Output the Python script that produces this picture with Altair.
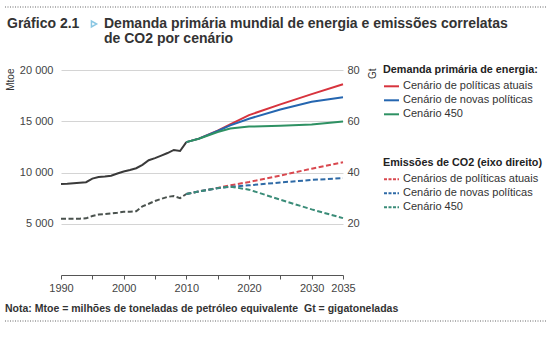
import altair as alt
import pandas as pd

# ---------------- data ----------------
hist_years = list(range(1990, 2011))
energy_hist = [8870, 8900, 8960, 9000, 9050, 9400, 9550, 9600, 9680, 9900,
               10100, 10250, 10420, 10750, 11200, 11400, 11650, 11900, 12200, 12100, 12960]
co2_hist = [22.0, 22.0, 22.0, 22.0, 22.1, 23.0, 23.6, 23.8, 24.0, 24.3,
            24.7, 24.7, 24.9, 26.8, 27.8, 28.9, 29.7, 30.5, 30.8, 30.0, 31.6]

proj_years = [2010, 2012, 2015, 2017, 2020, 2025, 2030, 2035]
energy_cps = [12960, 13300, 14080, 14700, 15600, 16650, 17650, 18610]
energy_nps = [12960, 13300, 14050, 14600, 15250, 16150, 16900, 17340]
energy_450 = [12960, 13300, 13950, 14300, 14480, 14550, 14680, 14970]
co2_cps = [31.6, 32.6, 34.0, 35.0, 36.3, 38.8, 41.5, 44.0]
co2_nps = [31.6, 32.6, 33.9, 34.4, 35.0, 36.1, 37.1, 37.8]
co2_450 = [31.6, 32.6, 33.9, 34.5, 33.3, 29.4, 25.6, 22.2]

x_tick_values = [1990, 1995, 2000, 2005, 2010, 2015, 2020, 2025, 2030, 2035]

energy_labels = ["Cenário de políticas atuais", "Cenário de novas políticas", "Cenário 450"]
co2_labels = ["Cenários de políticas atuais", "Cenário de novas políticas", "Cenário 450"]
hist_label = "Histórico"

energy_colors = ["#d7333d", "#2566b0", "#2e9163"]
co2_colors = ["#d9484f", "#2e6aa6", "#3a8c78"]
hist_energy_color = "#3a3a3a"
hist_co2_color = "#4a524e"

title_main = "Gráfico 2.1"
title_line1 = "Demanda primária mundial de energia e emissões correlatas"
title_line2 = "de CO2 por cenário"
note_text = "Nota: Mtoe = milhões de toneladas de petróleo equivalente \u00a0Gt = gigatoneladas"
legend_title_energy = "Demanda primária de energia:"
legend_title_co2 = "Emissões de CO2 (eixo direito)"

# ---------------- tables ----------------
rows_e = [{"ano": y, "valor": v, "serie": hist_label} for y, v in zip(hist_years, energy_hist)]
for lab, vals in zip(energy_labels, [energy_cps, energy_nps, energy_450]):
    rows_e += [{"ano": y, "valor": v, "serie": lab} for y, v in zip(proj_years, vals)]
df_e = pd.DataFrame(rows_e)

rows_c = [{"ano": y, "valor": v, "serie": hist_label} for y, v in zip(hist_years, co2_hist)]
for lab, vals in zip(co2_labels, [co2_cps, co2_nps, co2_450]):
    rows_c += [{"ano": y, "valor": v, "serie": lab} for y, v in zip(proj_years, vals)]
df_c = pd.DataFrame(rows_c)

FONT = "Liberation Sans"
W, H = 282, 205

x_scale = alt.Scale(domain=[1990, 2035], nice=False, zero=False)
x_axis = alt.Axis(title=None, values=x_tick_values, format="d",
                  labelExpr="(datum.value % 10 == 0 || datum.value > 2034) ? datum.label : ''",
                  grid=False, domainColor="#555555", tickColor="#555555", tickSize=4,
                  labelPadding=3, labelFontSize=11, labelColor="#444444", labelFont=FONT,
                  labelFlush=False, labelOverlap=False, labelBound=False)

legend_common = dict(orient="none", symbolType="stroke", symbolSize=225, symbolStrokeWidth=2,
                     labelFontSize=11, labelColor="#333333", labelFont=FONT,
                     titleFontSize=10.8, titleFontWeight="bold", titleColor="#222222",
                     titleFont=FONT, titlePadding=3, rowPadding=0, labelOffset=3,
                     padding=0, labelLimit=300, titleLimit=300)

energy = alt.Chart(df_e).mark_line(strokeWidth=2).encode(
    x=alt.X("ano:Q", scale=x_scale, axis=x_axis),
    y=alt.Y("valor:Q", scale=alt.Scale(domain=[0, 20000], nice=False),
            axis=alt.Axis(title="Mtoe", values=[5000, 10000, 15000, 20000],
                          labelExpr="replace(format(datum.value, ','), ',', ' ')",
                          grid=True, gridColor="#d4d4d4", gridWidth=1, domain=False, ticks=False,
                          labelPadding=8, labelFontSize=11, labelColor="#444444", labelFont=FONT,
                          titleAngle=270, titleX=-51, titleY=-2, titleAlign="right",
                          titleBaseline="middle", titleFontSize=10, titleFontWeight="normal",
                          titleColor="#333333", titleFont=FONT)),
    color=alt.Color("serie:N",
                    scale=alt.Scale(domain=[hist_label] + energy_labels,
                                    range=[hist_energy_color] + energy_colors),
                    legend=alt.Legend(title=legend_title_energy, values=energy_labels,
                                      legendX=322, legendY=-6, **legend_common)),
    detail="serie:N",
    order="ano:Q",
)

co2 = alt.Chart(df_c).mark_line(strokeWidth=2, strokeDash=[5, 2.5]).encode(
    x=alt.X("ano:Q", scale=x_scale, axis=x_axis),
    y=alt.Y("valor:Q", scale=alt.Scale(domain=[0, 80], nice=False),
            axis=alt.Axis(title="Gt", orient="right", values=[20, 40, 60, 80],
                          grid=False, domain=False, ticks=False,
                          labelPadding=4, labelFontSize=11, labelColor="#444444", labelFont=FONT,
                          titleAngle=270, titleX=29, titleY=-2, titleAlign="right",
                          titleBaseline="middle", titleFontSize=10, titleFontWeight="normal",
                          titleColor="#333333", titleFont=FONT)),
    color=alt.Color("serie:N",
                    scale=alt.Scale(domain=[hist_label] + co2_labels,
                                    range=[hist_co2_color] + co2_colors),
                    legend=alt.Legend(title=legend_title_co2, values=co2_labels,
                                      symbolDash=[3, 1.5], legendX=322, legendY=87,
                                      **legend_common)),
    detail="serie:N",
    order="ano:Q",
)

# ---------------- annotations ----------------
txt = pd.DataFrame([{"main": title_main, "l1": title_line1, "l2": title_line2, "nota": note_text}])

title_style = dict(align="left", baseline="alphabetic", fontSize=14, fontWeight="bold",
                   color="#333333", font=FONT)
t_main = alt.Chart(txt).mark_text(**title_style).encode(x=alt.value(-54), y=alt.value(-42), text="main:N")
t_l1 = alt.Chart(txt).mark_text(**title_style).encode(x=alt.value(43), y=alt.value(-42), text="l1:N")
t_l2 = alt.Chart(txt).mark_text(**title_style).encode(x=alt.value(43), y=alt.value(-27), text="l2:N")
tri = alt.Chart(txt).mark_point(shape="triangle-right", filled=False, color="#5ab0d8",
                                size=35, strokeWidth=1.5).encode(
    x=alt.value(33), y=alt.value(-46))
t_note = alt.Chart(txt).mark_text(align="left", baseline="alphabetic", fontSize=10.5, fontWeight="bold",
                                  color="#333333", font=FONT).encode(
    x=alt.value(-56), y=alt.value(242), text="nota:N")
dot_top = alt.Chart(txt).mark_rule(color="#666666", strokeWidth=1, strokeDash=[1, 1.5]).encode(
    x=alt.value(-56), x2=alt.value(486), y=alt.value(-63))
dot_bot = alt.Chart(txt).mark_rule(color="#666666", strokeWidth=1, strokeDash=[1, 1.5]).encode(
    x=alt.value(-56), x2=alt.value(486), y=alt.value(251))

chart = alt.layer(energy, co2, t_main, t_l1, t_l2, tri, t_note, dot_top, dot_bot).resolve_scale(
    y="independent", color="independent"
).properties(
    width=W, height=H,
    autosize=alt.AutoSizeParams(type="none"),
    padding={"left": 61, "top": 70, "right": 207, "bottom": 63},
    background="white",
).configure_view(stroke=None)

chart.save("out.html", embed_options={"renderer": "svg", "actions": False})
